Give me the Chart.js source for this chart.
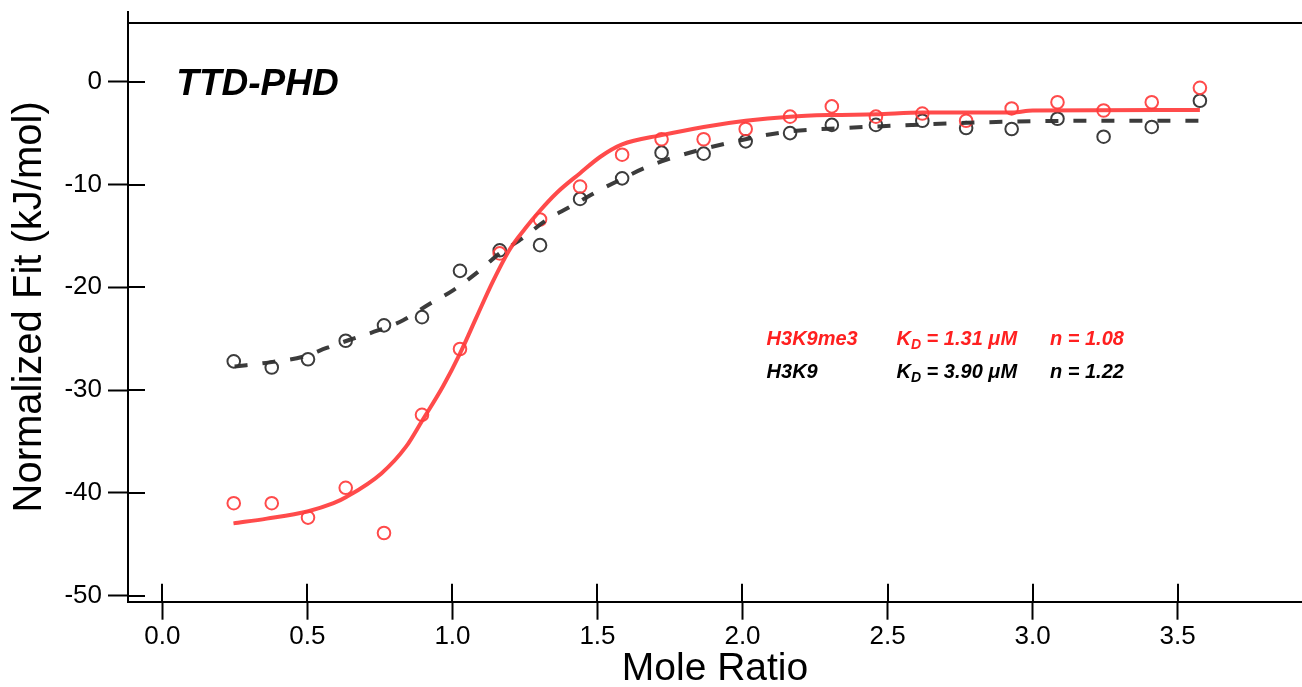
<!DOCTYPE html>
<html lang="en">
<head>
<meta charset="UTF-8">
<title>TTD-PHD ITC fit</title>
<script src="https://cdn.jsdelivr.net/npm/chart.js"></script>
<style>
  body { margin: 0; background: #fff; }
</style>
</head>
<body>
<canvas id="chart" width="1302" height="687"></canvas>
<script>
// injection mole ratios, same for both titrations
const moleRatio = [0.246, 0.377, 0.502, 0.632, 0.764, 0.895, 1.026, 1.163, 1.302, 1.440, 1.585, 1.721,
                   1.866, 2.011, 2.164, 2.308, 2.460, 2.620, 2.771, 2.928, 3.086, 3.245, 3.411, 3.577];
// normalized heats (kJ/mol)
const heatH3K9me3 = [-41.0, -41.0, -42.4, -39.5, -43.9, -32.4, -26.0, -16.7, -13.4, -10.2, -7.1, -5.6,
                     -5.6, -4.6, -3.4, -2.4, -3.4, -3.1, -3.8, -2.6, -2.0, -2.8, -2.0, -0.6];
const heatH3K9 = [-27.2, -27.8, -27.0, -25.2, -23.7, -22.9, -18.4, -16.4, -15.9, -11.4, -9.4, -6.9,
                  -7.0, -5.8, -5.0, -4.2, -4.2, -3.8, -4.5, -4.6, -3.6, -5.35, -4.4, -1.85];

// fitted curves
const fitX_H3K9me3 = [0.245, 0.36, 0.50, 0.59, 0.634, 0.755, 0.84, 0.895, 0.968, 1.025, 1.083, 1.14, 1.20,
                      1.25, 1.30, 1.36, 1.44, 1.51, 1.585, 1.721, 1.866, 2.011, 2.164, 2.308, 2.46, 2.62,
                      2.93, 3.0, 3.577];
const fitY_H3K9me3 = [-42.96, -42.5, -41.8, -41.0, -40.4, -38.1, -35.5, -33.0, -29.6, -26.5, -22.9, -19.4, -16.2,
                      -14.3, -12.6, -10.8, -8.9, -7.3, -6.1, -5.2, -4.4, -3.8, -3.4, -3.24, -3.17, -3.0,
                      -3.0, -2.8, -2.75];
const fitX_H3K9 = [0.249, 0.37, 0.485, 0.566, 0.646, 0.743, 0.83, 0.922, 1.002, 1.088, 1.163, 1.243, 1.324,
                   1.404, 1.497, 1.577, 1.662, 1.77, 1.97, 2.156, 2.356, 2.587, 2.898, 3.206, 3.577];
const fitY_H3K9 = [-27.7, -27.3, -26.75, -25.9, -25.1, -24.2, -23.2, -21.6, -20.3, -18.5, -16.7, -15.2, -13.45,
                   -12.2, -10.7, -9.56, -8.4, -7.3, -5.84, -4.86, -4.5, -4.2, -3.9, -3.8, -3.8];

const xTicks = [0, 0.5, 1.0, 1.5, 2.0, 2.5, 3.0, 3.5];
const yTicks = [-50, -40, -30, -20, -10, 0];

const FONT = '"Liberation Sans", Arial, sans-serif';
const RED = 'rgba(255, 60, 60, 0.92)';
const DARK = 'rgba(50, 50, 50, 0.95)';

function pairs(xs, ys) {
  return xs.map((x, i) => ({ x: x, y: ys[i] }));
}

// fixed axis sizes so the plot box lands where the original has it
function fixSize(s, w, h) {
  if (w != null) s.width = w;
  if (h != null) s.height = h;
  s.paddingTop = 0;
  s.paddingBottom = 0;
  s.paddingLeft = 0;
  s.paddingRight = 0;
}

// top frame line, inner halves of ticks, and the text labels
const framePlugin = {
  id: 'frame',
  afterDraw(chart) {
    const { ctx, chartArea: a, scales: { x, y } } = chart;
    ctx.save();
    ctx.strokeStyle = '#000';
    ctx.lineWidth = 2;
    ctx.beginPath();
    const ty = Math.round(y.getPixelForValue(5.74));
    ctx.moveTo(a.left, ty);
    ctx.lineTo(a.right, ty);
    x.ticks.forEach(t => {
      const px = Math.round(x.getPixelForValue(t.value));
      ctx.moveTo(px, a.bottom);
      ctx.lineTo(px, a.bottom - 18);
    });
    y.ticks.forEach(t => {
      const py = Math.round(y.getPixelForValue(t.value));
      ctx.moveTo(a.left, py);
      ctx.lineTo(a.left + 17, py);
    });
    ctx.stroke();

    ctx.textBaseline = 'alphabetic';
    ctx.textAlign = 'left';
    ctx.fillStyle = '#000';
    ctx.font = 'italic bold 37px ' + FONT;
    ctx.fillText('TTD-PHD', x.getPixelForValue(0.048), y.getPixelForValue(-1.29));

    const rows = [
      { name: 'H3K9me3', kd: '1.31', n: '1.08', color: '#ff2020', base: -25.6 },
      { name: 'H3K9', kd: '3.90', n: '1.22', color: '#000', base: -28.85 }
    ];
    rows.forEach(r => {
      const by = y.getPixelForValue(r.base);
      ctx.fillStyle = r.color;
      ctx.font = 'italic bold 20px ' + FONT;
      ctx.fillText(r.name, x.getPixelForValue(2.083), by);
      let cx = x.getPixelForValue(2.531);
      ctx.fillText('K', cx, by);
      cx += ctx.measureText('K').width;
      ctx.font = 'italic bold 14px ' + FONT;
      ctx.fillText('D', cx, by + 4);
      cx += ctx.measureText('D').width;
      ctx.font = 'italic bold 20px ' + FONT;
      ctx.fillText(' = ' + r.kd + ' \u03BCM', cx, by);
      ctx.fillText('n = ' + r.n, x.getPixelForValue(3.06), by);
    });
    ctx.restore();
  }
};

new Chart(document.getElementById('chart'), {
  type: 'scatter',
  data: {
    datasets: [
      {
        label: 'H3K9me3 fit',
        type: 'line',
        data: pairs(fitX_H3K9me3, fitY_H3K9me3),
        borderColor: RED,
        borderWidth: 4,
        pointRadius: 0,
        fill: false,
        cubicInterpolationMode: 'monotone'
      },
      {
        label: 'H3K9 fit',
        type: 'line',
        data: pairs(fitX_H3K9, fitY_H3K9),
        borderColor: DARK,
        borderWidth: 4,
        borderDash: [13, 15],
        pointRadius: 0,
        fill: false,
        cubicInterpolationMode: 'monotone'
      },
      {
        label: 'H3K9me3',
        data: pairs(moleRatio, heatH3K9me3),
        borderColor: RED,
        backgroundColor: 'transparent',
        borderWidth: 2,
        pointRadius: 6.3
      },
      {
        label: 'H3K9',
        data: pairs(moleRatio, heatH3K9),
        borderColor: DARK,
        backgroundColor: 'transparent',
        borderWidth: 2,
        pointRadius: 6.3
      }
    ]
  },
  options: {
    responsive: false,
    animation: false,
    layout: { autoPadding: false, padding: { top: 12, right: 0, left: 0, bottom: 0 } },
    plugins: {
      legend: { display: false },
      tooltip: { enabled: false }
    },
    scales: {
      x: {
        type: 'linear',
        min: -0.1186,
        max: 3.929,
        afterFit: s => fixSize(s, null, 85.3),
        afterBuildTicks: s => { s.ticks = xTicks.map(v => ({ value: v })); },
        border: { display: true, color: '#000', width: 2 },
        grid: { display: true, drawOnChartArea: false, drawTicks: true, tickLength: 18, tickWidth: 2, tickColor: '#000' },
        ticks: {
          color: '#000',
          padding: 2,
          maxRotation: 0,
          font: { family: FONT, size: 26 },
          callback: v => Number(v).toFixed(1)
        },
        title: {
          display: true,
          text: 'Mole Ratio',
          color: '#000',
          font: { family: FONT, size: 39, lineHeight: 0.9 },
          padding: 0
        }
      },
      y: {
        type: 'linear',
        min: -50.58,
        max: 6.78,
        afterFit: s => fixSize(s, 128, null),
        afterBuildTicks: s => { s.ticks = yTicks.map(v => ({ value: v })); },
        border: { display: true, color: '#000', width: 2 },
        grid: { display: true, drawOnChartArea: false, drawTicks: true, tickLength: 20, tickWidth: 2, tickColor: '#000' },
        ticks: {
          color: '#000',
          padding: 6,
          font: { family: FONT, size: 26 },
          callback: v => String(v)
        },
        title: {
          display: true,
          text: 'Normalized Fit (kJ/mol)',
          color: '#000',
          font: { family: FONT, size: 40 },
          padding: { top: 6, bottom: 0 }
        }
      }
    }
  },
  plugins: [framePlugin]
});
</script>
</body>
</html>
